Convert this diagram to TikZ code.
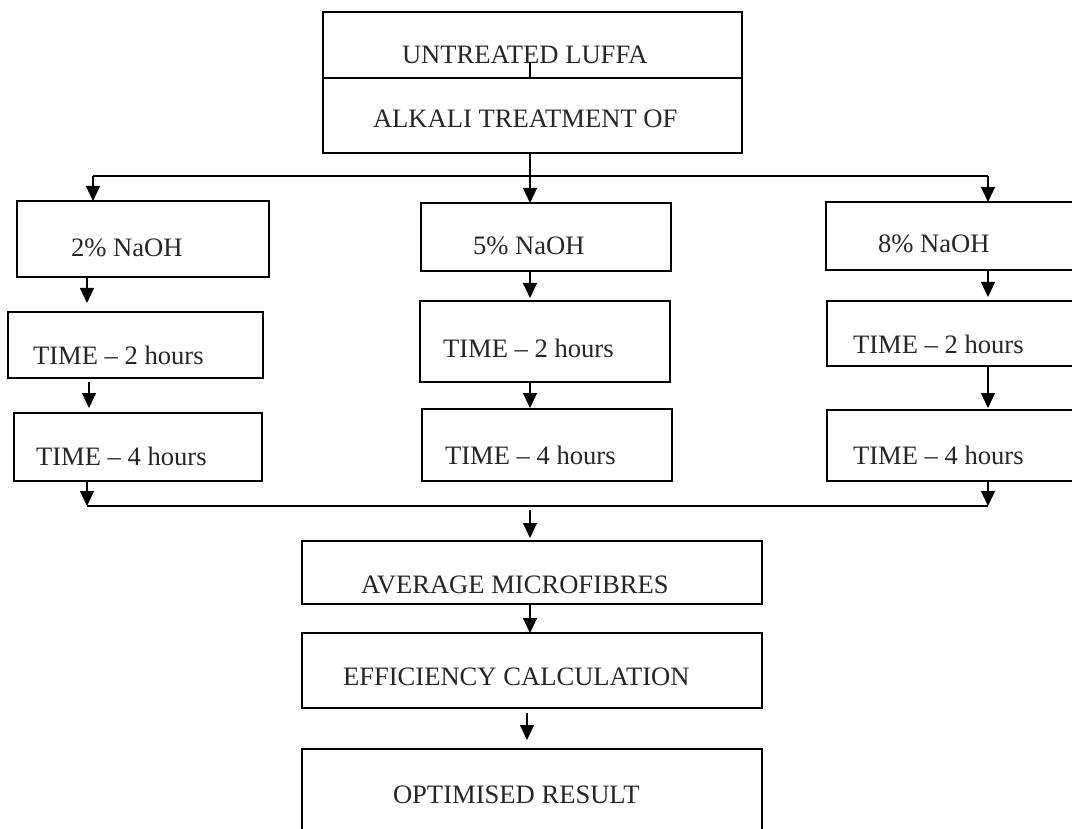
\documentclass[tikz,border=0pt]{standalone}
\usepackage{fontspec}
\setmainfont{Liberation Serif}
\usetikzlibrary{arrows.meta}
\definecolor{ink}{HTML}{262626}
\begin{document}
\begin{tikzpicture}[x=1pt,y=-1pt,
  box/.style={draw=black, line width=1.6pt, inner sep=0pt, outer sep=0pt},
  lbl/.style={anchor=base west, inner sep=0pt, outer sep=0pt, text=ink,
              font=\fontsize{26.6}{30}\selectfont},
  wire/.style={line width=1.1pt},
  flow/.style={line width=1.1pt, -{Triangle[width=14pt,length=15pt]}}]
\clip (0,0) rectangle (1072,829);
\fill[white] (0,0) rectangle (1072,829);

% boxes (centre, width, height)
\node[box, minimum width=419, minimum height=66] (untreated) at (532.5,45) {};
\node[box, minimum width=419, minimum height=75] (alkali) at (532.5,115.5) {};

\node[box, minimum width=252, minimum height=76] (n2) at (143,239) {};
\node[box, minimum width=255, minimum height=66] (t2a) at (135.5,345) {};
\node[box, minimum width=248, minimum height=68] (t4a) at (138,447) {};

\node[box, minimum width=250, minimum height=68] (n5) at (546,237) {};
\node[box, minimum width=250, minimum height=81] (t2b) at (545,341.5) {};
\node[box, minimum width=250, minimum height=72] (t4b) at (547,445) {};

\node[box, minimum width=264, minimum height=68] (n8) at (958,236) {};
\node[box, minimum width=263, minimum height=65] (t2c) at (958.5,333.5) {};
\node[box, minimum width=263, minimum height=71] (t4c) at (958.5,445.5) {};

\node[box, minimum width=460, minimum height=63] (avg) at (532,572.5) {};
\node[box, minimum width=460, minimum height=75] (eff) at (532,670.5) {};
\node[box, minimum width=460, minimum height=111] (opt) at (532,804.5) {};

% labels
\node[lbl] (l-untreated) at (402,64) {UNTREATED LUFFA};
\node[lbl] (l-alkali) at (373,128) {ALKALI TREATMENT OF};
\node[lbl] (l-n2) at (71,257) {2\% NaOH};
\node[lbl] (l-t2a) at (33,364) {TIME -- 2 hours};
\node[lbl] (l-t4a) at (36,465) {TIME -- 4 hours};
\node[lbl] (l-n5) at (473,255) {5\% NaOH};
\node[lbl] (l-t2b) at (443,358) {TIME -- 2 hours};
\node[lbl] (l-t4b) at (445,464) {TIME -- 4 hours};
\node[lbl] (l-n8) at (878,253) {8\% NaOH};
\node[lbl] (l-t2c) at (853,353) {TIME -- 2 hours};
\node[lbl] (l-t4c) at (853,464) {TIME -- 4 hours};
\node[lbl] (l-avg) at (361,593) {AVERAGE MICROFIBRES};
\node[lbl] (l-eff) at (343,685) {EFFICIENCY CALCULATION};
\node[lbl] (l-opt) at (393,803) {OPTIMISED RESULT};

% junction points
\coordinate (stub) at (530,62);
\coordinate (busL) at (93,176);
\coordinate (busR) at (988,176);
\coordinate (colA) at (87,0);
\coordinate (colA2) at (89,0);
\coordinate (colM) at (530,0);
\coordinate (colC) at (988,0);
\coordinate (jL) at (87,506);
\coordinate (jR) at (988,506);
\coordinate (jM) at (530,510);
\coordinate (colE) at (527,0);

% connectors
\draw[wire] (stub) -- (stub |- untreated.south);
\draw[flow] (alkali.south -| colM) -- (n5.north -| colM);
\draw[wire] (busL) -- (busR);
\draw[flow] (busL) -- (busL |- n2.north);
\draw[flow] (busR) -- (busR |- n8.north);

\draw[flow, shorten >=9pt] (n2.south -| colA) -- (t2a.north -| colA);
\draw[flow, shorten <=4pt, shorten >=5pt] (t2a.south -| colA2) -- (t4a.north -| colA2);

\draw[flow, shorten >=3pt] (n5.south -| colM) -- (t2b.north -| colM);
\draw[flow, shorten >=1pt] (t2b.south -| colM) -- (t4b.north -| colM);

\draw[flow, shorten >=4pt] (n8.south -| colC) -- (t2c.north -| colC);
\draw[flow, shorten >=2pt] (t2c.south -| colC) -- (t4c.north -| colC);

\draw[wire] (jL) -- (jR);
\draw[flow] (t4a.south -| jL) -- (jL);
\draw[flow] (t4c.south -| jR) -- (jR);
\draw[flow, shorten >=3pt] (jM) -- (avg.north -| jM);

\draw[flow] (avg.south -| colM) -- (eff.north -| colM);
\draw[flow, shorten <=5pt, shorten >=9pt] (eff.south -| colE) -- (opt.north -| colE);
\end{tikzpicture}
\end{document}
